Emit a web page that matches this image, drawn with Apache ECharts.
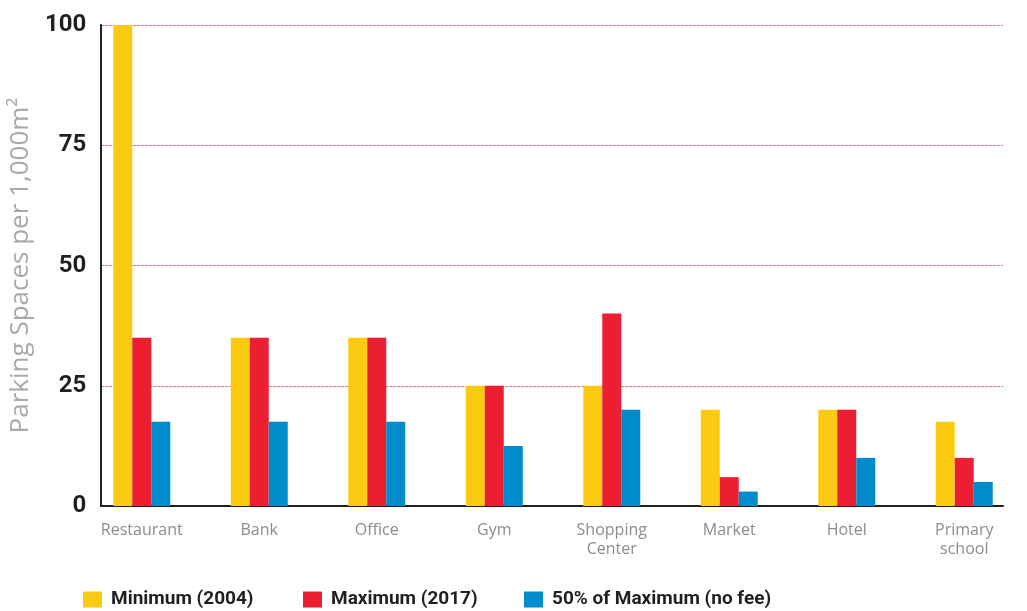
<!DOCTYPE html>
<html>
<head>
<meta charset="utf-8">
<script src="https://cdn.jsdelivr.net/npm/echarts@6/dist/echarts.min.js"></script>
<style>
  html, body { margin: 0; padding: 0; background: #ffffff; }
  #chart { width: 1027px; height: 611px; }
</style>
</head>
<body>
<div id="chart"></div>
<script>
// Parking space requirements per 1,000 m² by building use
const categories = ['Restaurant', 'Bank', 'Office', 'Gym', 'Shopping\nCenter', 'Market', 'Hotel', 'Primary\nschool'];
const minimum2004 = [100, 35, 35, 25, 25, 20, 20, 17.5];
const maximum2017 = [35, 35, 35, 25, 40, 6, 20, 10];
const halfMaximumNoFee = [17.5, 17.5, 17.5, 12.5, 20, 3, 10, 5];
const yTicks = [0, 25, 50, 75, 100];

const seriesNames = ['Minimum (2004)', 'Maximum (2017)', '50% of Maximum (no fee)'];
const colors = ['#fdca12', '#ec1f32', '#008bca'];

const chart = echarts.init(document.getElementById('chart'));

const legendStyle = {
  fontFamily: 'Roboto',
  fontWeight: 'bold',
  fontSize: 19,
  color: '#231f20',
  padding: [0, 0, 0, 4]
};

function legendAt(left, name) {
  return {
    left: left,
    top: 590,
    padding: 0,
    itemWidth: 19,
    itemHeight: 16,
    itemGap: 0,
    icon: 'rect',
    data: [name],
    textStyle: legendStyle,
    selectedMode: false
  };
}

chart.setOption({
  animation: false,
  backgroundColor: '#ffffff',
  legend: [
    legendAt(83, seriesNames[0]),
    legendAt(303, seriesNames[1]),
    legendAt(524, seriesNames[2])
  ],
  grid: [
    // frame: axis lines, tick labels and gridlines
    { left: 98, right: 24, top: 25, bottom: 105 },
    // bars and category labels
    { left: 83, right: 4, top: 25, bottom: 105 }
  ],
  xAxis: [
    {
      gridIndex: 0,
      type: 'value',
      min: 0,
      max: 1,
      axisLine: { show: true, lineStyle: { color: '#231f20', width: 2 } },
      axisTick: { show: false },
      axisLabel: { show: false },
      splitLine: { show: false }
    },
    {
      gridIndex: 1,
      type: 'category',
      data: categories,
      axisLine: { show: false },
      axisTick: { show: false },
      axisLabel: {
        margin: 15,
        fontFamily: 'Open Sans',
        fontSize: 16,
        color: '#8c8c8c',
        lineHeight: 19,
        interval: 0
      }
    }
  ],
  yAxis: [
    {
      gridIndex: 0,
      type: 'value',
      min: yTicks[0],
      max: yTicks[yTicks.length - 1],
      interval: yTicks[1] - yTicks[0],
      name: 'Parking Spaces per 1,000m²',
      nameLocation: 'middle',
      nameGap: 50,
      nameTextStyle: {
        fontFamily: 'Open Sans',
        fontSize: 26,
        color: '#a7a9ac'
      },
      axisLine: { show: true, lineStyle: { color: '#231f20', width: 2 } },
      axisTick: { show: false },
      axisLabel: {
        margin: 15,
        fontFamily: 'Roboto',
        fontWeight: 'bold',
        fontSize: 24,
        color: '#231f20'
      },
      splitLine: {
        show: true,
        lineStyle: { color: '#f0707b', type: [3, 1], width: 1 }
      }
    },
    {
      gridIndex: 1,
      type: 'value',
      min: yTicks[0],
      max: yTicks[yTicks.length - 1],
      show: false,
      splitLine: { show: false }
    }
  ],
  series: [minimum2004, maximum2017, halfMaximumNoFee].map((values, i) => ({
    name: seriesNames[i],
    type: 'bar',
    xAxisIndex: 1,
    yAxisIndex: 1,
    data: values,
    barWidth: 19,
    barGap: '0%',
    itemStyle: { color: colors[i] },
    z: 3
  }))
});
</script>
</body>
</html>
